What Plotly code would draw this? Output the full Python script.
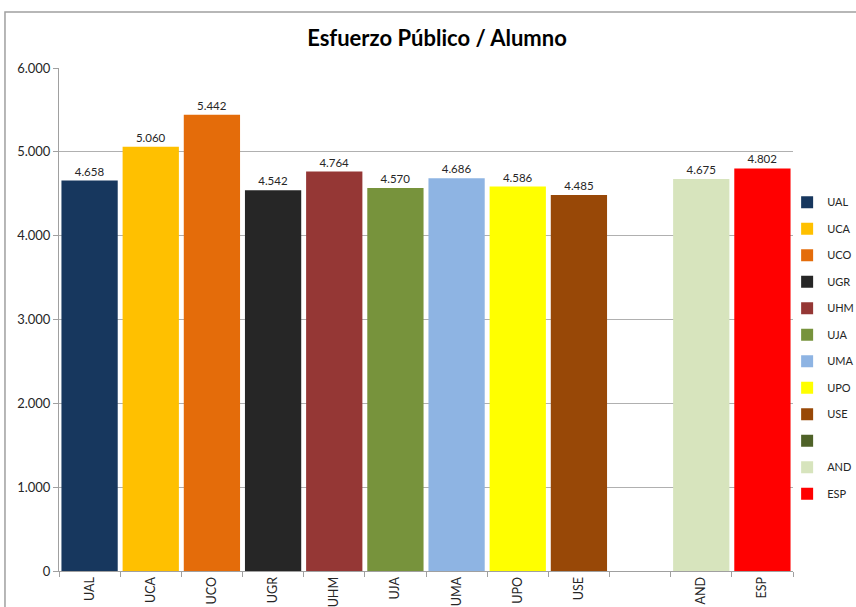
import plotly.graph_objects as go

categories = ["UAL", "UCA", "UCO", "UGR", "UHM", "UJA", "UMA", "UPO", "USE", " ", "AND", "ESP"]
values = [4658, 5060, 5442, 4542, 4764, 4570, 4686, 4586, 4485, None, 4675, 4802]
colors = ["#17375E", "#FFC000", "#E46C0A", "#262626", "#953735", "#77933C",
          "#8EB4E3", "#FFFF00", "#984807", "#4F6228", "#D7E4BD", "#FF0000"]

fnt = "Lato, 'Open Sans', sans-serif"

fig = go.Figure()
for i, (cat, val, col) in enumerate(zip(categories, values, colors)):
    fig.add_trace(go.Bar(
        x=[cat], y=[val], name=cat, marker_color=col, marker_line_width=0,
        legendgroup="g%d" % i,
        texttemplate="%{y:,.0f}", textposition="outside",
        textfont=dict(size=11.5, color="#262626", family=fnt),
        cliponaxis=False,
    ))

# grey chart-area border (top and left edges visible in the crop)
fig.add_shape(type="rect", xref="paper", yref="paper",
              x0=-0.0736, x1=1.3, y0=-0.3, y1=1.1113,
              line=dict(color="#A0A0A0", width=1.5), layer="below")

fig.update_layout(
    width=856, height=607,
    margin=dict(l=59, r=63, t=68, b=36, autoexpand=False),
    paper_bgcolor="white", plot_bgcolor="white",
    separators=",.",
    barmode="overlay", bargap=0.08,
    font=dict(family=fnt, size=12, color="#262626"),
    title=dict(text="<b>Esfuerzo Público / Alumno</b>", x=0.515, xref="paper",
               xanchor="center", y=0.937, yref="container", yanchor="middle",
               font=dict(size=22, color="black", family=fnt)),
    legend=dict(x=0.992, xanchor="left", y=0.443, yanchor="middle",
                traceorder="grouped", tracegroupgap=7.5, bgcolor="rgba(0,0,0,0)",
                font=dict(size=11, color="#262626"), itemwidth=30),
    showlegend=True,
)
fig.update_xaxes(
    categoryorder="array", categoryarray=categories,
    tickangle=-90, ticks="outside", tickson="boundaries", ticklen=5,
    tickcolor="#A0A0A0", showline=True, linecolor="#A0A0A0", linewidth=1,
    showgrid=False, tickfont=dict(size=12.5),
)
fig.update_yaxes(
    range=[0, 6000], dtick=1000, tickformat=",.0f",
    ticks="outside", ticklen=5, tickcolor="#A0A0A0",
    showline=True, linecolor="#A0A0A0", linewidth=1,
    showgrid=True, gridcolor="#B0B0B0", gridwidth=1, zeroline=False,
    tickfont=dict(size=13),
)

fig.write_html("out.html", config={"displayModeBar": False},
               post_script="document.body.style.margin='0px';")
